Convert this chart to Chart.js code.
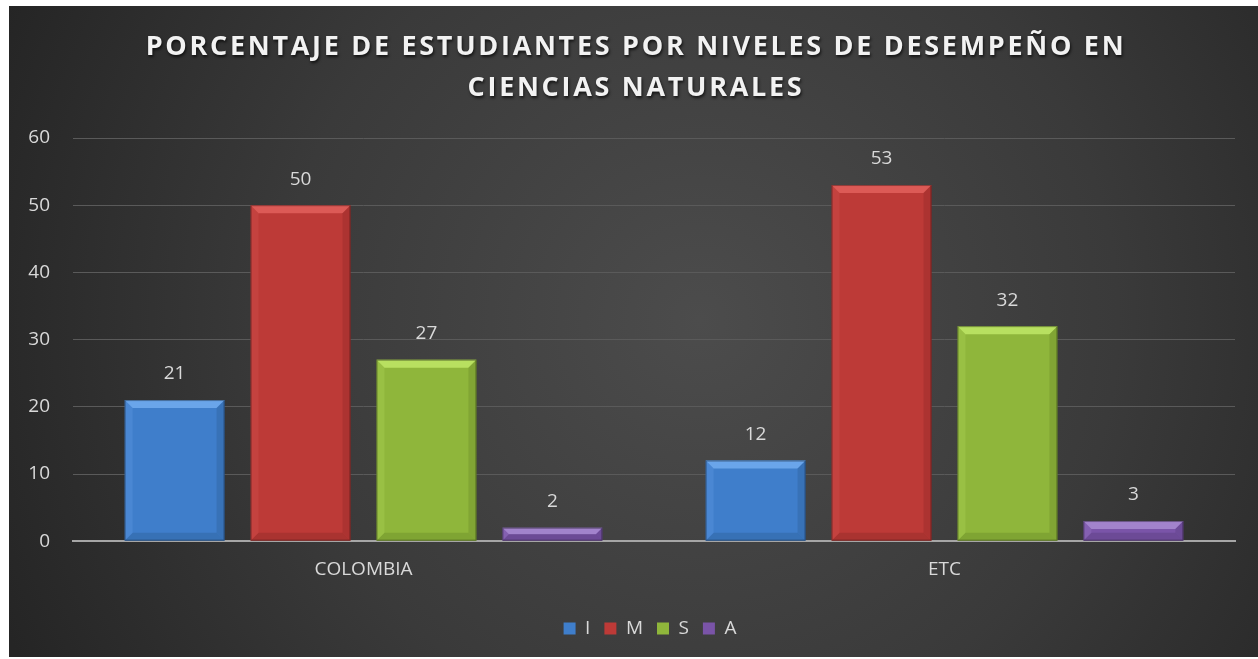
<!DOCTYPE html>
<html>
<head>
<meta charset="utf-8">
<script src="https://cdn.jsdelivr.net/npm/chart.js@4.4.1/dist/chart.umd.min.js"></script>
<style>
  html, body { margin: 0; padding: 0; background: #fff; }
  #wrap { width: 1258px; height: 659px; }
</style>
</head>
<body>
<div id="wrap"><canvas id="nivelesChart" width="1258" height="659"></canvas></div>
<script>
const categories = ['COLOMBIA', 'ETC'];
const levelNames = ['I', 'M', 'S', 'A'];
const valuesI = [21, 12];
const valuesM = [50, 53];
const valuesS = [27, 32];
const valuesA = [2, 3];
const yTicks = [0, 10, 20, 30, 40, 50, 60];
const titleLines = ['PORCENTAJE DE ESTUDIANTES POR NIVELES DE DESEMPEÑO EN', 'CIENCIAS NATURALES'];

// base, light (top bevel), dark (bottom bevel)
const palette = [
  ['#3f7ecb', '#6aa5ea', '#30649f'],
  ['#bd3a37', '#dc5a56', '#962c2a'],
  ['#8fb63b', '#b8e060', '#70912c'],
  ['#7a54a8', '#a283cc', '#5e4084']
];

const ctx = document.getElementById('nivelesChart');

// background: white frame + dark radial gradient
const backgroundPlugin = {
  id: 'background',
  beforeDraw(chart) {
    const c = chart.ctx;
    c.save();
    c.fillStyle = '#ffffff';
    c.fillRect(0, 0, chart.width, chart.height);
    const g = c.createRadialGradient(700, 320, 0, 700, 320, 760);
    g.addColorStop(0, '#4c4c4c');
    g.addColorStop(0.55, '#3a3a3a');
    g.addColorStop(1, '#252525');
    c.fillStyle = g;
    c.fillRect(9, 6, chart.width - 9, 651);
    c.restore();
  }
};

// the legend in the original is centred on the plot, not on the canvas
const legendShift = {
  id: 'legendShift',
  afterLayout(chart) {
    if (chart.legend) {
      chart.legend.left += 28;
      chart.legend.right += 28;
    }
  }
};

// title with letter spacing and a soft shadow
const titlePlugin = {
  id: 'spacedTitle',
  afterDraw(chart) {
    const c = chart.ctx;
    c.save();
    c.font = 'bold 27px "Open Sans"';
    c.letterSpacing = '2.7px';
    c.textAlign = 'center';
    c.textBaseline = 'middle';
    c.shadowColor = 'rgba(0,0,0,0.7)';
    c.shadowOffsetX = 1;
    c.shadowOffsetY = 2;
    c.shadowBlur = 3;
    c.fillStyle = '#f2f2f2';
    c.fillText(titleLines[0], 636, 47);
    c.fillText(titleLines[1], 636, 88);
    c.restore();
  }
};

// bevel on every bar, then value labels above them
const bevelPlugin = {
  id: 'bevel',
  afterDatasetsDraw(chart) {
    const c = chart.ctx;
    c.save();
    chart.data.datasets.forEach((ds, di) => {
      const meta = chart.getDatasetMeta(di);
      const cols = palette[di];
      meta.data.forEach((bar, i) => {
        const p = bar.getProps(['x', 'y', 'base', 'width'], true);
        const l = p.x - p.width / 2, r = p.x + p.width / 2;
        const t = p.y, b = p.base;
        const h = b - t;
        const e = Math.min(8, h / 2);
        // top
        c.fillStyle = cols[1];
        c.beginPath();
        c.moveTo(l, t); c.lineTo(r, t); c.lineTo(r - e, t + e); c.lineTo(l + e, t + e); c.closePath();
        c.fill();
        // bottom
        c.globalAlpha = 0.5;
        c.fillStyle = cols[2];
        c.beginPath();
        c.moveTo(l, b); c.lineTo(r, b); c.lineTo(r - e, b - e); c.lineTo(l + e, b - e); c.closePath();
        c.fill();
        // sides
        c.globalAlpha = 0.45;
        c.beginPath();
        c.moveTo(r, t); c.lineTo(r, b); c.lineTo(r - e, b - e); c.lineTo(r - e, t + e); c.closePath();
        c.fill();
        c.fillStyle = cols[1];
        c.globalAlpha = 0.25;
        c.beginPath();
        c.moveTo(l, t); c.lineTo(l, b); c.lineTo(l + e, b - e); c.lineTo(l + e, t + e); c.closePath();
        c.fill();
        c.globalAlpha = 1;
        // thin dark outline
        c.strokeStyle = 'rgba(0,0,0,0.35)';
        c.lineWidth = 1;
        c.strokeRect(l + 0.5, t + 0.5, p.width - 1, h - 1);
        // value label
        c.fillStyle = '#d9d9d9';
        c.font = '19px "Open Sans"';
        c.textAlign = 'center';
        c.textBaseline = 'middle';
        c.fillText(ds.data[i], p.x, t - 26);
      });
    });
    c.restore();
  }
};

const seriesValues = [valuesI, valuesM, valuesS, valuesA];

const chart = new Chart(ctx, {
  type: 'bar',
  data: {
    labels: categories,
    datasets: levelNames.map((name, k) => ({
      label: name,
      data: seriesValues[k],
      backgroundColor: palette[k][0],
      borderWidth: 0,
      categoryPercentage: 0.867,
      barPercentage: 0.794
    }))
  },
  options: {
    responsive: false,
    animation: false,
    events: [],
    layout: {
      padding: { left: 9, right: 23, top: 138, bottom: 11 }
    },
    plugins: {
      title: { display: false },
      tooltip: { enabled: false },
      legend: {
        position: 'bottom',
        labels: {
          color: '#d9d9d9',
          font: { family: 'Open Sans', size: 19 },
          boxWidth: 12,
          boxHeight: 12,
          padding: 14
        }
      }
    },
    scales: {
      x: {
        afterFit(scale) {
          scale.height += 7;
        },
        grid: { display: false, drawTicks: false },
        border: { display: true, color: '#a6a6a6', width: 2 },
        ticks: {
          color: '#d9d9d9',
          font: { family: 'Open Sans', size: 19 },
          padding: 17
        }
      },
      y: {
        min: 0,
        max: 60,
        afterBuildTicks(scale) {
          scale.ticks = yTicks.map(v => ({ value: v }));
        },
        afterFit(scale) {
          scale.width = 64;
        },
        grid: { color: '#5a5a5a', lineWidth: 1, drawTicks: false },
        border: { display: false },
        ticks: {
          color: '#d9d9d9',
          font: { family: 'Open Sans', size: 19 },
          padding: 23
        }
      }
    }
  },
  plugins: [backgroundPlugin, legendShift, titlePlugin, bevelPlugin]
});
</script>
</body>
</html>
